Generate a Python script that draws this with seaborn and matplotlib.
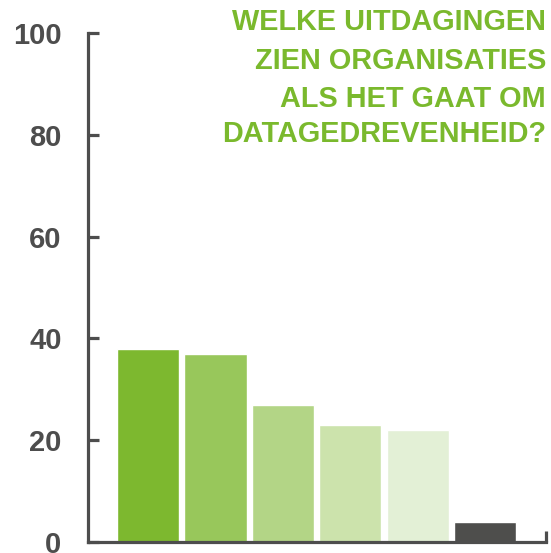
import matplotlib
matplotlib.use("Agg")
import matplotlib.pyplot as plt
import seaborn as sns
import pandas as pd

# Share of organisations per challenge (percent)
categories = ["U1", "U2", "U3", "U4", "U5", "U6"]
values = [38, 37, 27, 23, 22, 4]
colors = ["#7DB82F", "#98C75B", "#B3D586", "#CCE3AC", "#E3F0D6", "#4E4E4C"]
y_ticks = [0, 20, 40, 60, 80, 100]
title_lines = ["WELKE UITDAGINGEN", "ZIEN ORGANISATIES", "ALS HET GAAT OM", "DATAGEDREVENHEID?"]

sns.set_theme(style="white")
plt.rcParams["font.family"] = ["Liberation Sans", "DejaVu Sans"]

axis_grey = "#4D4D4D"
title_green = "#7AB92D"

df = pd.DataFrame({"categorie": categories, "waarde": values})

fig = plt.figure(figsize=(5.51, 5.53), dpi=100)
W, H = 551, 553
ax = fig.add_axes([88 / W, (H - 542) / H, (546 - 88) / W, (542 - 33) / H])

sns.barplot(data=df, x="categorie", y="waarde", hue="categorie",
            palette=colors, legend=False, width=0.92, saturation=1,
            ax=ax, zorder=1)

x_max = 5.9
ax.set_xlim(-0.89, x_max)
ax.set_ylim(0, 100)
ax.set_xlabel("")
ax.set_ylabel("")

for side in ["top", "right"]:
    ax.spines[side].set_visible(False)
for side in ["left", "bottom"]:
    ax.spines[side].set_color(axis_grey)
    ax.spines[side].set_linewidth(2.3)
    ax.spines[side].set_zorder(3)

ax.set_yticks(y_ticks)
ax.set_yticklabels([str(t) for t in y_ticks], fontsize=21, fontweight="bold",
                   color=axis_grey)
ax.tick_params(axis="y", direction="in", length=8, width=2.3, color=axis_grey,
               pad=19, left=True)
ax.set_xticks([x_max])
ax.set_xticklabels([""])
ax.tick_params(axis="x", direction="in", length=8, width=2.3, color=axis_grey,
               bottom=True)

# Title block, right-aligned in the upper corner
title_baselines = [29.5, 69, 107, 142]
for line, ypx in zip(title_lines, title_baselines):
    fig.text(546 / W, 1 - ypx / H, line, ha="right", va="baseline",
             fontsize=20.8, fontweight="bold", color=title_green)

fig.savefig("out.png", dpi=100)
